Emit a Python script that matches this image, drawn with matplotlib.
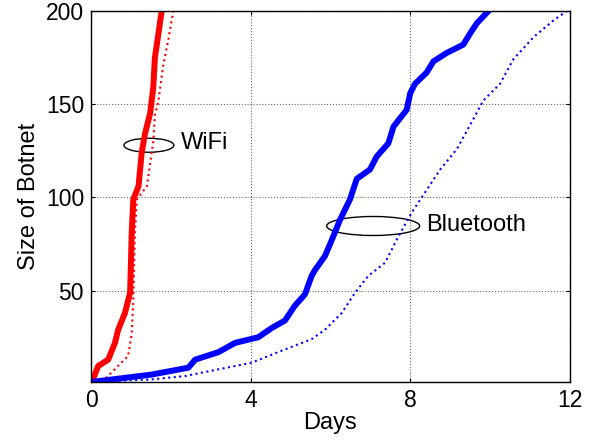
import matplotlib
matplotlib.use("Agg")
import matplotlib.pyplot as plt
from matplotlib.patches import Ellipse

plt.rcParams["font.family"] = ["Liberation Sans", "DejaVu Sans"]

# WiFi, actual (thick) and model (dotted)
wifi_x = [0.02, 0.18, 0.43, 0.60, 0.68, 0.85, 0.98, 1.02, 1.06, 1.19, 1.27, 1.35, 1.48, 1.56, 1.60, 1.69, 1.77]
wifi_y = [1, 9.6, 13, 22, 29, 38, 49, 81, 99, 106, 124, 134, 145, 159, 175, 188, 200]
wifi_dot_x = [0.27, 0.93, 1.02, 1.06, 1.10, 1.15, 1.40, 1.56, 1.60, 1.69, 1.81, 1.94, 2.06]
wifi_dot_y = [1, 15, 27, 45, 81, 99, 106, 130, 144, 152, 171, 185, 200]

# Bluetooth, actual (thick) and model (dotted)
bt_x = [0.0, 1.52, 2.44, 2.61, 3.19, 3.61, 4.19, 4.53, 4.86, 5.11, 5.36, 5.53, 5.61, 5.86,
        6.03, 6.24, 6.49, 6.66, 6.99, 7.16, 7.45, 7.58, 7.91, 8.00, 8.12, 8.41, 8.58, 8.91,
        9.33, 9.50, 9.67, 9.96]
bt_y = [1, 5, 8.7, 13, 17, 22, 25, 30, 34, 42, 48, 58, 61, 68.5,
        77, 88, 99, 110, 115, 122, 129, 138, 147, 156, 161, 167, 173, 177.5,
        182, 188, 193.5, 200]
bt_dot_x = [0.0, 1.52, 2.36, 3.19, 4.03, 4.86, 5.53, 5.86, 6.28, 6.62, 6.95, 7.37, 7.70,
            8.04, 8.41, 8.75, 9.17, 9.58, 9.83, 10.25, 10.58, 11.09, 11.59, 11.92]
bt_dot_y = [1, 2.4, 4.2, 7.8, 11.4, 18.5, 24, 29, 38, 49, 58, 65, 79,
            92, 104, 115, 126, 142, 152, 161, 174, 186, 195, 200]

x_ticks = [0, 4, 8, 12]
y_ticks = [50, 100, 150, 200]

fig = plt.figure(figsize=(5.93, 4.42), dpi=100)
ax = fig.add_axes([0.1535, 0.1357, 0.8075, 0.8393])

ax.plot(wifi_dot_x, wifi_dot_y, color="red", ls=":", lw=1.5)
ax.plot(bt_dot_x, bt_dot_y, color="blue", ls=":", lw=1.5)
ax.plot(wifi_x, wifi_y, color="red", lw=4.3, solid_joinstyle="round")
ax.plot(bt_x, bt_y, color="blue", lw=4.3, solid_joinstyle="round")

ax.add_patch(Ellipse((1.45, 128), 1.25, 7.5, fill=False, ec="black", lw=1))
ax.add_patch(Ellipse((7.07, 84.7), 2.33, 10.2, fill=False, ec="black", lw=1))
ax.text(2.26, 129, "WiFi", fontsize=17, va="center", ha="left")
ax.text(8.41, 85, "Bluetooth", fontsize=17, va="center", ha="left")

ax.set_xlim(0, 12)
ax.set_ylim(1, 200)
ax.set_xticks(x_ticks)
ax.set_yticks(y_ticks)
ax.tick_params(direction="in", top=True, right=True, labelsize=16.5, length=3, pad=5)
ax.grid(True, ls=":", color="black", lw=0.8, alpha=0.6)
for s in ax.spines.values():
    s.set_linewidth(1)
ax.set_xlabel("Days", fontsize=17, labelpad=0)
ax.set_ylabel("Size of Botnet", fontsize=17, labelpad=4)

fig.savefig("out.png", dpi=100)
